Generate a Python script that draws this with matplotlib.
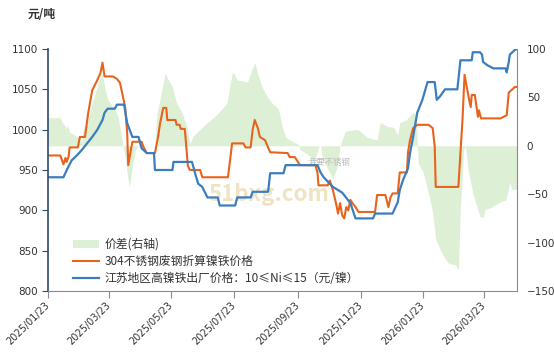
import pandas as pd
import matplotlib.pyplot as plt
import matplotlib.dates as mdates
from matplotlib.patches import Patch
from matplotlib.lines import Line2D

plt.rcParams['font.family'] = ['Noto Sans CJK SC', 'DejaVu Sans']

# 304不锈钢废钢折算镍铁价格 (元/镍)
scrap_dates = [
    '2025-01-23', '2025-02-04', '2025-02-07', '2025-02-09', '2025-02-10', '2025-02-12',
    '2025-02-13', '2025-02-21', '2025-02-23', '2025-02-28', '2025-03-03', '2025-03-07',
    '2025-03-11', '2025-03-15', '2025-03-17', '2025-03-19', '2025-03-27', '2025-03-31',
    '2025-04-03', '2025-04-08', '2025-04-10', '2025-04-11', '2025-04-15', '2025-04-24',
    '2025-04-26', '2025-04-29', '2025-05-07', '2025-05-10', '2025-05-12', '2025-05-15',
    '2025-05-18', '2025-05-19', '2025-05-27', '2025-05-28', '2025-05-31', '2025-06-01',
    '2025-06-05', '2025-06-08', '2025-06-10', '2025-06-20', '2025-06-22', '2025-07-17',
    '2025-07-21', '2025-08-01', '2025-08-03', '2025-08-08', '2025-08-10', '2025-08-12',
    '2025-08-15', '2025-08-17', '2025-08-22', '2025-08-27', '2025-09-13', '2025-09-15',
    '2025-09-20', '2025-09-22', '2025-09-25', '2025-10-10', '2025-10-12', '2025-10-13',
    '2025-10-22', '2025-10-24', '2025-10-27', '2025-10-30', '2025-11-01', '2025-11-03',
    '2025-11-05', '2025-11-07', '2025-11-09', '2025-11-11', '2025-11-13', '2025-11-15',
    '2025-11-18', '2025-11-21', '2025-12-07', '2025-12-09', '2025-12-17', '2025-12-20',
    '2025-12-22', '2025-12-24', '2025-12-29', '2025-12-31', '2026-01-07', '2026-01-08',
    '2026-01-10', '2026-01-13', '2026-01-17', '2026-01-28', '2026-02-01', '2026-02-03',
    '2026-02-04', '2026-02-26', '2026-02-28', '2026-03-02', '2026-03-04', '2026-03-08',
    '2026-03-10', '2026-03-11', '2026-03-14', '2026-03-17', '2026-03-18', '2026-03-20',
    '2026-04-08', '2026-04-14', '2026-04-16', '2026-04-22', '2026-04-24',
]
scrap_price = [
    968, 968, 957, 965, 960, 966,
    978, 978, 991, 991, 1020, 1049,
    1059, 1070, 1083, 1066, 1066, 1063,
    1058, 1028, 996, 956, 985, 985,
    978, 971, 971, 991, 1008, 1027,
    1027, 1012, 1012, 1006, 1006, 1001,
    1001, 955, 950, 950, 941, 941,
    983, 983, 978, 978, 1000, 1012,
    1002, 991, 987, 972, 971, 966,
    966, 962, 956, 956, 947, 931,
    931, 937, 925, 909, 896, 909,
    894, 890, 904, 900, 913, 909,
    904, 898, 898, 919, 919, 904,
    916, 921, 921, 947, 947, 972,
    987, 1002, 1006, 1006, 1002, 979,
    929, 929, 971, 1012, 1068, 1040,
    1028, 1043, 1043, 1016, 1024, 1014,
    1014, 1018, 1046, 1053, 1053,
]

# 江苏地区高镍铁出厂价格
npi_dates = [
    '2025-01-23', '2025-02-07', '2025-02-11', '2025-02-15', '2025-02-20', '2025-02-25',
    '2025-03-02', '2025-03-07', '2025-03-12', '2025-03-17', '2025-03-19', '2025-03-22',
    '2025-03-29', '2025-03-31', '2025-04-07', '2025-04-10', '2025-04-15', '2025-04-21',
    '2025-04-24', '2025-04-29', '2025-05-06', '2025-05-07', '2025-05-24', '2025-05-25',
    '2025-06-12', '2025-06-15', '2025-06-18', '2025-06-22', '2025-06-27', '2025-07-07',
    '2025-07-09', '2025-07-24', '2025-07-26', '2025-08-08', '2025-08-10', '2025-08-25',
    '2025-08-27', '2025-09-09', '2025-09-11', '2025-10-12', '2025-10-15', '2025-10-18',
    '2025-10-27', '2025-11-05', '2025-11-13', '2025-11-18', '2025-12-05', '2025-12-07',
    '2025-12-24', '2025-12-29', '2025-12-31', '2026-01-03', '2026-01-08', '2026-01-10',
    '2026-01-13', '2026-01-17', '2026-01-22', '2026-01-27', '2026-02-03', '2026-02-05',
    '2026-02-08', '2026-02-13', '2026-02-25', '2026-02-28', '2026-03-11', '2026-03-12',
    '2026-03-19', '2026-03-21', '2026-03-22', '2026-03-26', '2026-04-01', '2026-04-13',
    '2026-04-14', '2026-04-16', '2026-04-17', '2026-04-22', '2026-04-24',
]
npi_price = [
    941, 941, 952, 962, 968, 975,
    983, 991, 1000, 1012, 1021, 1026,
    1026, 1031, 1031, 1008, 991, 991,
    977, 971, 971, 950, 950, 960,
    960, 946, 933, 929, 916, 916,
    906, 906, 916, 916, 923, 923,
    946, 946, 956, 956, 947, 941,
    929, 922, 909, 890, 890, 896,
    896, 910, 925, 937, 952, 971,
    991, 1021, 1037, 1059, 1059, 1037,
    1041, 1050, 1050, 1086, 1086, 1096,
    1096, 1093, 1084, 1080, 1076, 1076,
    1071, 1084, 1093, 1099, 1100,
]

# 价差(右轴)
spread_dates = [
    '2025-01-23', '2025-02-04', '2025-02-06', '2025-02-09', '2025-02-10', '2025-02-11',
    '2025-02-13', '2025-02-15', '2025-02-21', '2025-02-25', '2025-02-26', '2025-03-03',
    '2025-03-08', '2025-03-13', '2025-03-17', '2025-03-19', '2025-03-22', '2025-03-26',
    '2025-03-29', '2025-04-01', '2025-04-04', '2025-04-06', '2025-04-08', '2025-04-10',
    '2025-04-12', '2025-04-15', '2025-04-18', '2025-04-20', '2025-04-23', '2025-04-27',
    '2025-05-07', '2025-05-09', '2025-05-12', '2025-05-15', '2025-05-17', '2025-05-20',
    '2025-05-24', '2025-05-28', '2025-06-02', '2025-06-07', '2025-06-10', '2025-06-13',
    '2025-06-20', '2025-06-27', '2025-07-06', '2025-07-16', '2025-07-21', '2025-07-22',
    '2025-07-26', '2025-08-05', '2025-08-08', '2025-08-12', '2025-08-15', '2025-08-19',
    '2025-08-24', '2025-08-29', '2025-09-04', '2025-09-08', '2025-09-11', '2025-09-15',
    '2025-09-23', '2025-09-25', '2025-09-30', '2025-10-05', '2025-10-08', '2025-10-13',
    '2025-10-15', '2025-10-17', '2025-10-24', '2025-10-27', '2025-10-31', '2025-11-03',
    '2025-11-08', '2025-11-20', '2025-11-29', '2025-12-09', '2025-12-12', '2025-12-19',
    '2025-12-25', '2025-12-29', '2025-12-31', '2026-01-07', '2026-01-13', '2026-01-16',
    '2026-01-18', '2026-01-23', '2026-01-28', '2026-02-01', '2026-02-04', '2026-02-10',
    '2026-02-16', '2026-02-23', '2026-02-26', '2026-02-28', '2026-03-02', '2026-03-03',
    '2026-03-05', '2026-03-07', '2026-03-10', '2026-03-12', '2026-03-16', '2026-03-19',
    '2026-03-22', '2026-03-24', '2026-03-31', '2026-04-06', '2026-04-13', '2026-04-17',
    '2026-04-19', '2026-04-24',
]
spread_vals = [
    29, 29, 24, 20, 17, 22,
    14, 13, 9, 4, 17, 27,
    48, 65, 75, 61, 48, 42,
    39, 30, 13, 0, -11, -28,
    -43, -22, -4, -1, 3, 0,
    0, 34, 48, 65, 75, 68,
    61, 44, 35, 20, 2, 10,
    17, 24, 32, 44, 75, 76,
    68, 66, 75, 86, 74, 61,
    51, 44, 38, 19, 9, 6,
    2, -4, -7, -11, -18, -2,
    1, -14, -28, -35, -22, 0,
    15, 17, 9, 6, 24, 20,
    19, 11, 24, 27, 35, 30,
    -18, -28, -49, -69, -97, -111,
    -121, -123, -128, -63, -28, -4,
    0, -22, -38, -49, -63, -73,
    -74, -66, -63, -59, -56, -38,
    -45, -45,
]

tick_dates = ['2025-01-23', '2025-03-23', '2025-05-23', '2025-07-23',
              '2025-09-23', '2025-11-23', '2026-01-23', '2026-03-23']

scrap_dates = pd.to_datetime(scrap_dates)
npi_dates = pd.to_datetime(npi_dates)
spread_dates = pd.to_datetime(spread_dates)
tick_dates = pd.to_datetime(tick_dates)

c_orange = '#E8631C'
c_blue = '#3B7DBD'
c_green = '#DDEFD4'
c_text = '#333333'

fig = plt.figure(figsize=(5.54, 3.63), dpi=100)
ax = fig.add_axes([48 / 554, 1 - 291 / 363, 469 / 554, 242 / 363])
ax_r = ax.twinx()

# 价差放在右轴, 折线画在上层
ax_r.fill_between(spread_dates, spread_vals, 0, color=c_green, linewidth=0)
ax.set_zorder(ax_r.get_zorder() + 1)
ax.patch.set_visible(False)

ax.plot(scrap_dates, scrap_price, color=c_orange, lw=1.5)
ax.plot(npi_dates, npi_price, color=c_blue, lw=1.6)

ax.set_xlim(scrap_dates[0], scrap_dates[-1])
ax.set_ylim(800, 1100)
ax.set_yticks(range(800, 1101, 50))
ax_r.set_ylim(-150, 100)
ax_r.set_yticks(range(-150, 101, 50))

ax.set_xticks(tick_dates)
ax.xaxis.set_major_formatter(mdates.DateFormatter('%Y/%m/%d'))
for lab in ax.get_xticklabels():
    lab.set_rotation(45)
    lab.set_ha('right')
    lab.set_va('center')
    lab.set_rotation_mode('anchor')
for lab in ax.get_xticklabels() + ax.get_yticklabels() + ax_r.get_yticklabels():
    lab.set_family('DejaVu Sans')

ax.spines['top'].set_visible(False)
ax_r.spines['top'].set_visible(False)
ax.spines['right'].set_visible(False)
ax_r.spines['left'].set_visible(False)
ax_r.spines['bottom'].set_visible(False)
ax.spines['left'].set_color('#2E4A6B')
ax.spines['left'].set_linewidth(1.2)
ax.spines['bottom'].set_color('#8C8C8C')
ax_r.spines['right'].set_color('#8C8C8C')

ax.tick_params(axis='y', colors='#2E4A6B', labelcolor=c_text, labelsize=7.5, length=4, pad=3)
ax.tick_params(axis='x', colors='#8C8C8C', labelcolor=c_text, labelsize=7, length=5, pad=4)
ax_r.tick_params(axis='y', labelcolor=c_text, labelsize=7.5, length=0, pad=7)

fig.text(28 / 554, 1 - 14 / 363, '元/吨', fontsize=8.5, fontweight='bold',
         color=c_text, ha='left', va='center')

# 水印
ax.text(0.47, 0.40, '51bxg.com', transform=ax.transAxes, fontsize=16,
        fontweight='bold', style='italic', color='#EADDB5', alpha=0.8,
        ha='center', va='center', zorder=0)
ax.text(0.60, 0.53, '我要不锈钢', transform=ax.transAxes, fontsize=6,
        color='#BBBBBB', ha='center', va='center', zorder=0)

handles = [
    Patch(facecolor=c_green, edgecolor='none'),
    Line2D([], [], color=c_orange, lw=1.5),
    Line2D([], [], color=c_blue, lw=1.6),
]
labels = ['价差(右轴)', '304不锈钢废钢折算镍铁价格', '江苏地区高镍铁出厂价格：10≤Ni≤15（元/镍）']
leg = ax.legend(handles, labels, loc='lower left', bbox_to_anchor=(0.03, -0.02),
                frameon=False, fontsize=8.5, handlelength=2.2, handleheight=0.6,
                labelspacing=0.35, handletextpad=0.5)
for t in leg.get_texts():
    t.set_color(c_text)

fig.savefig('out.png', dpi=100)
